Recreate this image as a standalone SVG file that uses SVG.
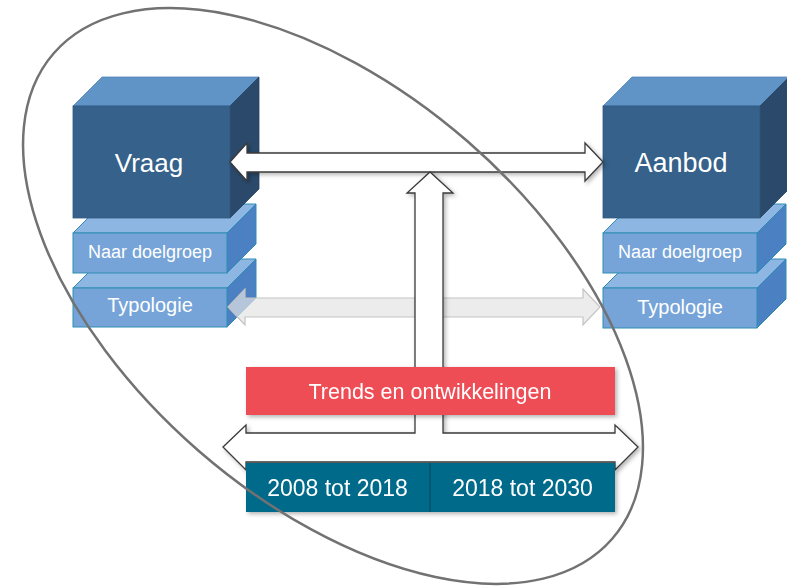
<svg xmlns="http://www.w3.org/2000/svg" width="787" height="586" viewBox="0 0 787 586">
<defs>
<filter id="sh" x="-10%" y="-20%" width="130%" height="160%">
<feDropShadow dx="2" dy="2" stdDeviation="2" flood-color="#000" flood-opacity="0.3"/>
</filter>
<style>
.cf{fill:#35618A;stroke:#2E5880;stroke-width:0.8}
.ct{fill:#6093C6;stroke:#5384B6;stroke-width:0.8}
.cr{fill:#2B4A6B;stroke:#27435F;stroke-width:0.8}
.sf{fill:#76A4D8;stroke:#2F8DB5;stroke-width:1}
.st{fill:#8DB6E2;stroke:#2F8DB5;stroke-width:1}
.sr{fill:#4B80C2;stroke:#2F8DB5;stroke-width:1}
.t{font-family:"Liberation Sans",Arial,sans-serif;fill:#fff;text-anchor:middle}
.arr{fill:#fff;stroke:#3a3a3a;stroke-width:1.3;stroke-linejoin:miter}
</style>
</defs>
<rect width="787" height="586" fill="#fff"/>

<g id="vraag-typologie">
<polygon class="st" points="73,288 102,259 256,259 227,288"/>
<polygon class="sr" points="227,288 256,259 256,298 227,327"/>
<rect class="sf" x="73" y="288" width="154" height="39"/>
<text class="t" x="150" y="312" font-size="20">Typologie</text>
</g>
<g id="vraag-doelgroep">
<polygon class="st" points="73,233 102,204 256,204 227,233"/>
<polygon class="sr" points="227,233 256,204 256,244 227,273"/>
<rect class="sf" x="73" y="233" width="154" height="40"/>
<text class="t" x="150" y="258" font-size="18">Naar doelgroep</text>
</g>
<g id="vraag">
<polygon class="ct" points="73,106 102,77 259,77 230,106"/>
<polygon class="cr" points="230,106 259,77 259,189 230,218"/>
<rect class="cf" x="73" y="106" width="157" height="112"/>
<text class="t" x="149" y="172" font-size="26">Vraag</text>
</g>

<g id="aanbod-typologie">
<polygon class="st" points="603,288 632,259 786,259 757,288"/>
<polygon class="sr" points="757,288 786,259 786,299 757,328"/>
<rect class="sf" x="603" y="288" width="154" height="40"/>
<text class="t" x="680" y="314" font-size="20">Typologie</text>
</g>
<g id="aanbod-doelgroep">
<polygon class="st" points="603,233 632,204 786,204 757,233"/>
<polygon class="sr" points="757,233 786,204 786,244 757,273"/>
<rect class="sf" x="603" y="233" width="154" height="40"/>
<text class="t" x="680" y="258" font-size="18">Naar doelgroep</text>
</g>
<g id="aanbod">
<polygon class="ct" points="603,106 632,77 789,77 760,106"/>
<polygon class="cr" points="760,106 789,77 789,189 760,218"/>
<rect class="cf" x="603" y="106" width="157" height="112"/>
<text class="t" x="681" y="172" font-size="27">Aanbod</text>
</g>

<g id="connectors">
<path d="M228,307 L245,289 L245,298 L583,298 L583,289 L600,307 L583,325 L583,317 L245,317 L245,325 Z" fill="#e4e4e4" fill-opacity="0.7" stroke="#c4c4c4" stroke-width="1.2"/>
<path class="arr" filter="url(#sh)" d="M230,162 L247,143 L247,153 L585,153 L585,143 L603,162 L585,181 L585,172 L247,172 L247,181 Z"/>
<path class="arr" filter="url(#sh)" d="M223,447 L246,425 L246,433 L415,433 L415,193 L407,193 L430,172 L453,193 L443,193 L443,433 L615,433 L615,425 L638,447 L615,470 L615,462 L246,462 L246,470 Z"/>
</g>

<g id="trends" filter="url(#sh)">
<rect x="246" y="367" width="369" height="48" fill="#EF4D56"/>
<text class="t" x="430" y="399" font-size="21.5">Trends en ontwikkelingen</text>
</g>
<g id="periode" filter="url(#sh)">
<rect x="246" y="463" width="369" height="49" fill="#006A8A"/>
<line x1="430" y1="463" x2="430" y2="512" stroke="#004A62" stroke-width="1.2"/>
<text class="t" x="337.5" y="496" font-size="23">2008 tot 2018</text>
<text class="t" x="522.5" y="496" font-size="23">2018 tot 2030</text>
</g>

<g id="scope">
<ellipse cx="333" cy="296" rx="370" ry="205" transform="rotate(41 333 296)" fill="none" stroke="#727272" stroke-width="2.5"/>
</g>
</svg>
